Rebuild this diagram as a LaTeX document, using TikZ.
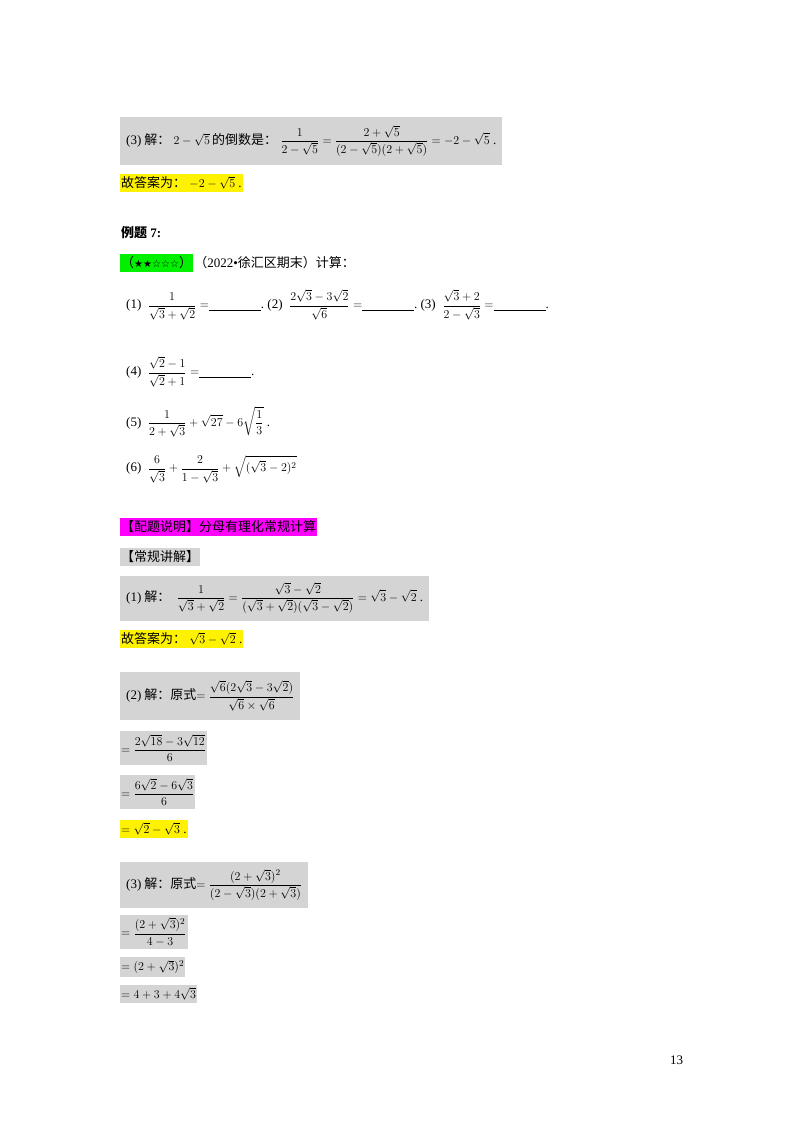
\documentclass[tikz,border=0pt]{standalone}
\usepackage{amsmath}
\usepackage{fontspec}
\setmainfont{Liberation Serif}
\newfontfamily\cjk{Noto Sans CJK SC}
\newfontfamily\sym{DejaVu Sans}
\definecolor{mag}{RGB}{255,0,255}
\definecolor{grn}{RGB}{0,240,0}
\tikzset{
  tx/.style={anchor=west,inner xsep=6pt,inner ysep=3pt,font=\fontsize{13}{15}\selectfont},
  gb/.style={tx,fill=black!17},
  yb/.style={tx,fill=yellow},
}
\newcommand{\blank}{\underline{\hspace{52pt}}}
\begin{document}
\begin{tikzpicture}[x=1pt,y=-1pt]
\useasboundingbox (0,0) rectangle (800,1132);
\node[gb,minimum height=48pt] (a1) at (120,141) {(3){\cjk\ 解：}$\;2-\sqrt5\,${\cjk 的倒数是：}$\;\displaystyle\frac{1}{2-\sqrt5}=\frac{2+\sqrt5}{(2-\sqrt5)(2+\sqrt5)}=-2-\sqrt5$\ .};
\node[yb,inner xsep=1pt] (a2) at (120,183) {{\cjk 故答案为：}\ $-2-\sqrt5$\ .\ };
\node[tx,inner xsep=1pt] (e7) at (120,233) {{\cjk\bfseries 例题}\ \textbf{7:}};
\node[tx,inner xsep=1pt,fill=grn] (st) at (120,263) {{\cjk（}{\sym\fontsize{10}{12}\selectfont ★★☆☆☆}{\cjk ）}};
\node[tx,inner xsep=1pt,anchor=west] (src) at (st.east) {{\cjk（}2022•{\cjk 徐汇区期末）计算：}};
\node[tx] (q1) at (120,305) {(1)\ \ $\displaystyle\frac{1}{\sqrt3+\sqrt2}=$\blank.\ (2)\ \ $\displaystyle\frac{2\sqrt3-3\sqrt2}{\sqrt6}=$\blank.\ (3)\ \ $\displaystyle\frac{\sqrt3+2}{2-\sqrt3}=$\blank.};
\node[tx] (q4) at (120,372) {(4)\ \ $\displaystyle\frac{\sqrt2-1}{\sqrt2+1}=$\blank.};
\node[tx] (q5) at (120,422) {(5)\ \ $\displaystyle\frac{1}{2+\sqrt3}+\sqrt{27}-6\sqrt{\frac13}$\ .};
\node[tx] (q6) at (120,469) {(6)\ \ $\displaystyle\frac{6}{\sqrt3}+\frac{2}{1-\sqrt3}+\sqrt{(\sqrt3-2)^2}$};
\node[tx,inner xsep=1pt,fill=mag] (m) at (120,527) {\cjk 【配题说明】分母有理化常规计算};
\node[gb,inner xsep=1pt] (cg) at (120,557) {\cjk 【常规讲解】};
\node[gb,minimum height=45pt] (s1) at (120,598) {(1){\cjk\ 解：}\ \ $\displaystyle\frac{1}{\sqrt3+\sqrt2}=\frac{\sqrt3-\sqrt2}{(\sqrt3+\sqrt2)(\sqrt3-\sqrt2)}=\sqrt3-\sqrt2$\ .};
\node[yb,inner xsep=1pt] (s1a) at (120,639) {{\cjk 故答案为：}\ $\sqrt3-\sqrt2$\ .\ };
\node[gb,minimum height=48pt] (s2) at (120,696) {(2){\cjk\ 解：原式}$\displaystyle=\frac{\sqrt6(2\sqrt3-3\sqrt2)}{\sqrt6\times\sqrt6}$};
\node[gb,inner xsep=1pt] (s2b) at (120,748) {$\displaystyle=\frac{2\sqrt{18}-3\sqrt{12}}{6}$\ };
\node[gb,inner xsep=1pt] (s2c) at (120,792) {$\displaystyle=\frac{6\sqrt2-6\sqrt3}{6}$\ };
\node[yb,inner xsep=1pt] (s2d) at (120,829) {$=\sqrt2-\sqrt3$\ .};
\node[gb,minimum height=46pt] (s3) at (120,885) {(3){\cjk\ 解：原式}$\displaystyle=\frac{(2+\sqrt3)^2}{(2-\sqrt3)(2+\sqrt3)}$};
\node[gb,inner xsep=1pt] (s3b) at (120,932) {$\displaystyle=\frac{(2+\sqrt3)^2}{4-3}$};
\node[gb,inner xsep=1pt] (s3c) at (120,967) {$=(2+\sqrt3)^2$};
\node[gb,inner xsep=1pt] (s3d) at (120,994) {$=4+3+4\sqrt3$};
\node[tx] (pg) at (664,1060) {13};
\end{tikzpicture}
\end{document}
